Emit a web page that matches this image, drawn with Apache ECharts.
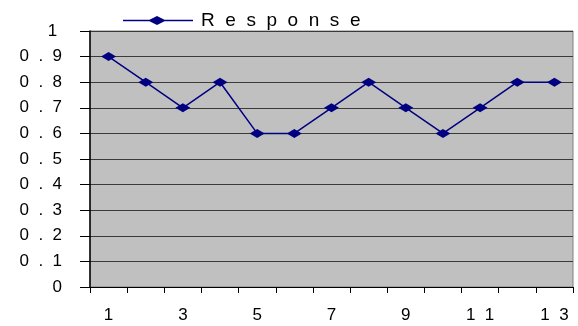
<!DOCTYPE html>
<html><head><meta charset="utf-8">
<script src="https://cdn.jsdelivr.net/npm/echarts@6/dist/echarts.min.js"></script>
<style>html,body{margin:0;padding:0;background:#fff}#c{width:578px;height:326px}</style>
</head><body><div id="c"></div>
<script>
const categories = ['1','2','3','4','5','6','7','8','9','10','11','12','13'];
const responseValues = [0.9,0.8,0.7,0.8,0.6,0.6,0.7,0.8,0.7,0.6,0.7,0.8,0.8];
const yTickLabels = ['0','0  .  1','0  .  2','0  .  3','0  .  4','0  .  5','0  .  6','0  .  7','0  .  8','0  .  9','1 '];
const seriesName = 'Response';
const spaced = s => s.split('').join('  ');
const chart = echarts.init(document.getElementById('c'));
chart.setOption({
  animation:false,
  textStyle:{fontFamily:'Liberation Sans, Arial, sans-serif'},
  legend:{
    left:118, top:6, itemWidth:70, itemHeight:9, itemGap:8,
    icon:'path://M0,3.75 L26.5,3.75 L34,0 L41.5,3.75 L70,3.75 L70,5.25 L41.5,5.25 L34,9 L26.5,5.25 L0,5.25 Z',
    itemStyle:{color:'#000080',borderWidth:0},
    data:[seriesName],
    formatter: n => spaced(n),
    textStyle:{fontSize:19,color:'#000',fontFamily:'Liberation Sans',padding:[0,0,0,3]}
  },
  grid:{left:90,right:5,top:31,bottom:39,show:true,backgroundColor:'#c0c0c0',borderColor:'#808080',borderWidth:1},
  xAxis:{
    type:'category', data:categories, boundaryGap:true,
    axisLine:{lineStyle:{color:'#000',width:1}},
    axisTick:{show:true,alignWithLabel:false,interval:0,length:6,lineStyle:{color:'#000'}},
    axisLabel:{interval:1,margin:20,fontSize:17,color:'#000',fontFamily:'Liberation Sans',formatter:v=>spaced(v)}
  },
  yAxis:{
    type:'value', min:0, max:1, interval:0.1,
    axisLine:{show:true,lineStyle:{color:'#000',width:1.5}},
    axisTick:{show:true,length:10,lineStyle:{color:'#000'}},
    splitLine:{show:true,lineStyle:{color:'#3a3a3a',width:1}},
    axisLabel:{margin:28,fontSize:17,color:'#000',fontFamily:'Liberation Sans',formatter:v=>yTickLabels[Math.round(v*10)]}
  },
  series:[{
    name:seriesName, type:'line', data:responseValues,
    symbol:'diamond', symbolSize:[15,9],
    lineStyle:{color:'#000080',width:1.5},
    itemStyle:{color:'#000080'}
  }]
});
</script></body></html>
